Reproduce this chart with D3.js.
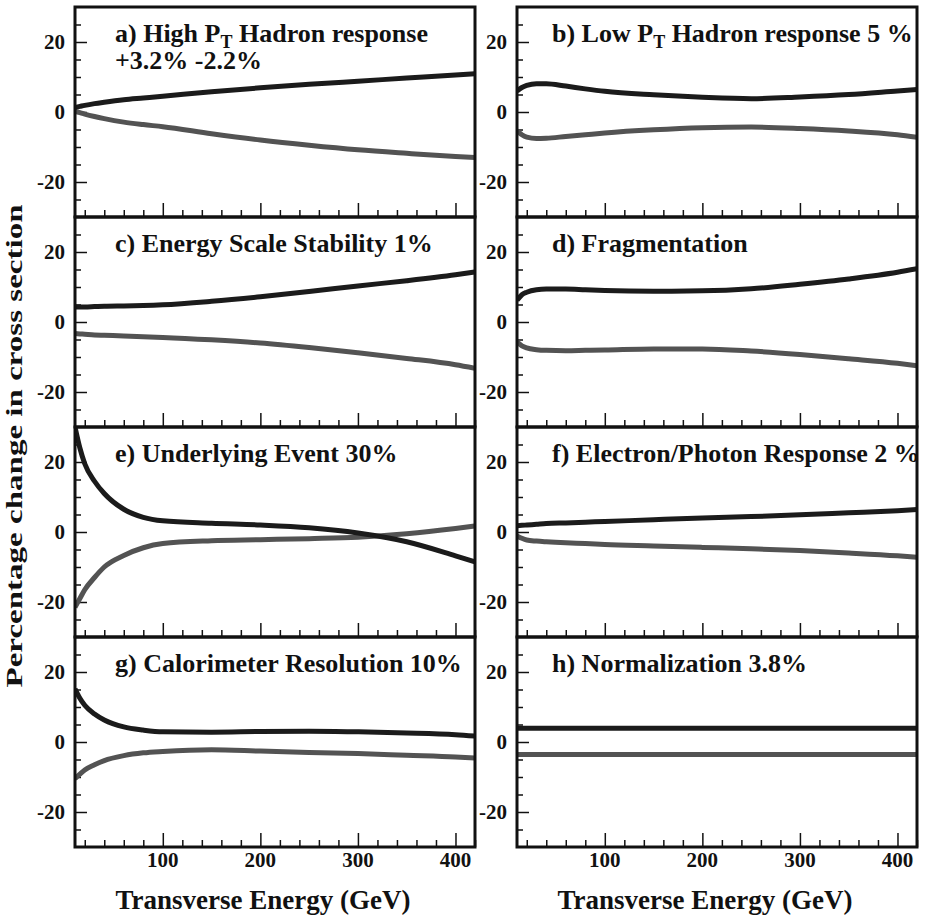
<!DOCTYPE html>
<html lang="en">
<head>
    <meta charset="UTF-8">
    <title>Percentage change in cross section</title>
    <script src="https://d3js.org/d3.v7.min.js"></script>
    <style>
        body { margin: 0; background: #fff; }
        text { font-family: "Liberation Serif", "Times New Roman", serif; font-weight: bold; fill: #111; }
        .frame { fill: none; stroke: #111; stroke-width: 3px; }
        .tick line { stroke: #111; stroke-width: 1.5px; }
        .upper { fill: none; stroke: #1b1b1b; stroke-width: 5px; }
        .lower { fill: none; stroke: #535353; stroke-width: 5px; }
    </style>
</head>
<body>
<div id="chart"></div>

<script>
    // transverse energy sample points (GeV)
    var et = [10, 15, 20, 30, 40, 60, 80, 100, 150, 200, 250, 300, 350, 400, 420];

    var aUp = [1.3, 1.6, 1.9, 2.4, 2.8, 3.5, 4.0, 4.5, 5.8, 6.9, 7.9, 8.8, 9.7, 10.6, 10.9];
    var aLo = [0.2, -0.2, -0.6, -1.3, -1.9, -2.9, -3.6, -4.2, -6.2, -8.0, -9.5, -10.8, -11.8, -12.7, -13.0];
    var bUp = [6.0, 7.0, 7.6, 8.1, 8.1, 7.4, 6.6, 5.9, 4.9, 4.2, 3.8, 4.3, 5.0, 6.0, 6.4];
    var bLo = [-5.3, -6.5, -7.2, -7.6, -7.5, -7.0, -6.5, -6.0, -5.1, -4.5, -4.3, -4.7, -5.4, -6.5, -7.2];
    var cUp = [4.3, 4.3, 4.3, 4.4, 4.5, 4.6, 4.7, 4.9, 5.9, 7.2, 8.7, 10.3, 11.8, 13.5, 14.3];
    var cLo = [-3.3, -3.4, -3.5, -3.7, -3.8, -4.0, -4.2, -4.4, -5.1, -6.0, -7.3, -8.8, -10.4, -12.2, -13.2];
    var dUp = [6.2, 7.8, 8.5, 9.2, 9.4, 9.4, 9.2, 9.0, 8.8, 8.9, 9.5, 10.8, 12.3, 14.2, 15.2];
    var dLo = [-5.7, -6.8, -7.4, -7.9, -8.1, -8.2, -8.1, -8.0, -7.7, -7.7, -8.3, -9.3, -10.5, -11.8, -12.5];
    var eUp = [30, 24, 19.5, 14.5, 11, 6.5, 4.2, 3.2, 2.5, 2.0, 1.2, -0.3, -2.8, -6.8, -8.5];
    var eLo = [-21.5, -19, -16.5, -13, -10, -6.7, -4.5, -3.3, -2.5, -2.2, -1.9, -1.5, -0.5, 1.0, 1.7];
    var fUp = [1.8, 1.9, 2.0, 2.2, 2.4, 2.6, 2.8, 3.0, 3.5, 4.0, 4.4, 4.9, 5.5, 6.1, 6.4];
    var fLo = [-1.1, -1.8, -2.3, -2.6, -2.8, -3.1, -3.3, -3.6, -4.0, -4.4, -4.8, -5.3, -6.0, -6.8, -7.2];
    var gUp = [15.2, 12.5, 10.5, 8.0, 6.3, 4.3, 3.4, 2.9, 2.8, 3.0, 3.1, 2.9, 2.6, 2.1, 1.7];
    var gLo = [-10.5, -9.2, -8.0, -6.5, -5.3, -3.9, -3.1, -2.7, -2.2, -2.6, -3.0, -3.3, -3.8, -4.3, -4.6];
    var hUp = [3.9, 3.9, 3.9, 3.9, 3.9, 3.9, 3.9, 3.9, 3.9, 3.9, 3.9, 3.9, 3.9, 3.9, 3.9];
    var hLo = [-3.6, -3.6, -3.6, -3.6, -3.6, -3.6, -3.6, -3.6, -3.6, -3.6, -3.6, -3.6, -3.6, -3.6, -3.6];

    // panel titles: [before subscript, subscript, after subscript]
    var titles = [
        ["a) High P", "T", " Hadron response"],
        ["b) Low P", "T", " Hadron response 5 %"],
        ["c) Energy Scale Stability 1%", "", ""],
        ["d) Fragmentation", "", ""],
        ["e) Underlying Event 30%", "", ""],
        ["f) Electron/Photon Response 2 %", "", ""],
        ["g) Calorimeter Resolution 10%", "", ""],
        ["h) Normalization 3.8%", "", ""]
    ];
    var subtitleA = "+3.2% -2.2%";
    var ups = [aUp, bUp, cUp, dUp, eUp, fUp, gUp, hUp];
    var los = [aLo, bLo, cLo, dLo, eLo, fLo, gLo, hLo];

    var yTicks = [-20, 0, 20];
    var xTicks = [100, 200, 300, 400];

    var W = 931, H = 917;
    var colLeft = [75, 517], panelW = 400;
    var top0 = 7, panelH = 210;
    var titleX = [40, 35];

    var svg = d3.select("#chart").append("svg")
        .attr("width", W)
        .attr("height", H);

    svg.append("rect").attr("width", W).attr("height", H).attr("fill", "#fff");

    var defs = svg.append("defs");

    titles.forEach(function(t, i) {
        var col = i % 2, row = Math.floor(i / 2);
        var x0 = colLeft[col], y0 = top0 + row * panelH;

        var x = d3.scaleLinear().domain([10, 420]).range([x0, x0 + panelW]);
        var y = d3.scaleLinear().domain([-30, 30]).range([y0 + panelH, y0]);

        var g = svg.append("g");

        defs.append("clipPath").attr("id", "clip" + i)
          .append("rect")
            .attr("x", x0).attr("y", y0)
            .attr("width", panelW).attr("height", panelH);

        // x ticks, inside the bottom edge
        g.append("g")
            .attr("transform", "translate(0," + (y0 + panelH) + ")")
            .call(d3.axisTop(x).tickValues(d3.range(20, 421, 20).filter(function(v) { return v % 100; }))
                .tickSize(7).tickFormat(""))
            .call(function(s) { s.select(".domain").remove(); });
        g.append("g")
            .attr("transform", "translate(0," + (y0 + panelH) + ")")
            .call(d3.axisTop(x).tickValues(xTicks).tickSize(14).tickFormat(""))
            .call(function(s) { s.select(".domain").remove(); });

        // y ticks, inside the left edge
        g.append("g")
            .attr("transform", "translate(" + x0 + ",0)")
            .call(d3.axisRight(y).tickValues(d3.range(-25, 26, 5).filter(function(v) { return v % 20; }))
                .tickSize(6).tickFormat(""))
            .call(function(s) { s.select(".domain").remove(); });
        g.append("g")
            .attr("transform", "translate(" + x0 + ",0)")
            .call(d3.axisRight(y).tickValues(yTicks).tickSize(12).tickFormat(""))
            .call(function(s) { s.select(".domain").remove(); });

        // y tick labels
        g.selectAll("text.ylab").data(yTicks).enter().append("text")
            .attr("class", "ylab")
            .attr("x", x0 - 10)
            .attr("y", function(d) { return y(d) + 7; })
            .attr("text-anchor", "end")
            .style("font-size", "21px")
            .text(function(d) { return d; });

        // curves
        var line = d3.line()
            .x(function(d) { return x(d[0]); })
            .y(function(d) { return y(d[1]); })
            .curve(d3.curveMonotoneX);

        var curves = g.append("g").attr("clip-path", "url(#clip" + i + ")");
        curves.append("path").attr("class", "lower")
            .attr("d", line(d3.zip(et, los[i])));
        curves.append("path").attr("class", "upper")
            .attr("d", line(d3.zip(et, ups[i])));

        // frame
        g.append("rect").attr("class", "frame")
            .attr("x", x0).attr("y", y0)
            .attr("width", panelW).attr("height", panelH);

        // title
        var tt = g.append("text")
            .attr("x", x0 + titleX[col])
            .attr("y", y0 + 35)
            .style("font-size", "26px");
        tt.append("tspan").text(t[0]);
        if (t[1]) {
            tt.append("tspan").attr("dy", 6).style("font-size", "18px").text(t[1]);
            tt.append("tspan").attr("dy", -6).text(t[2]);
        }
        if (i === 0) {
            g.append("text")
                .attr("x", x0 + titleX[col])
                .attr("y", y0 + 62)
                .style("font-size", "26px")
                .text(subtitleA);
        }

        // bottom row: x tick labels and axis title
        if (row === 3) {
            g.selectAll("text.xlab").data(xTicks).enter().append("text")
                .attr("class", "xlab")
                .attr("x", function(d) { return x(d); })
                .attr("y", y0 + panelH + 20)
                .attr("text-anchor", "middle")
                .style("font-size", "21px")
                .text(function(d) { return d; });
            g.append("text")
                .attr("x", x0 + 188)
                .attr("y", 909)
                .attr("text-anchor", "middle")
                .style("font-size", "27px")
                .text("Transverse Energy (GeV)");
        }
    });

    svg.append("text")
        .attr("transform", "translate(22,446) rotate(-90)")
        .attr("text-anchor", "middle")
        .attr("textLength", 483)
        .attr("lengthAdjust", "spacingAndGlyphs")
        .style("font-size", "23px")
        .text("Percentage change in cross section");
</script>
</body>
</html>
